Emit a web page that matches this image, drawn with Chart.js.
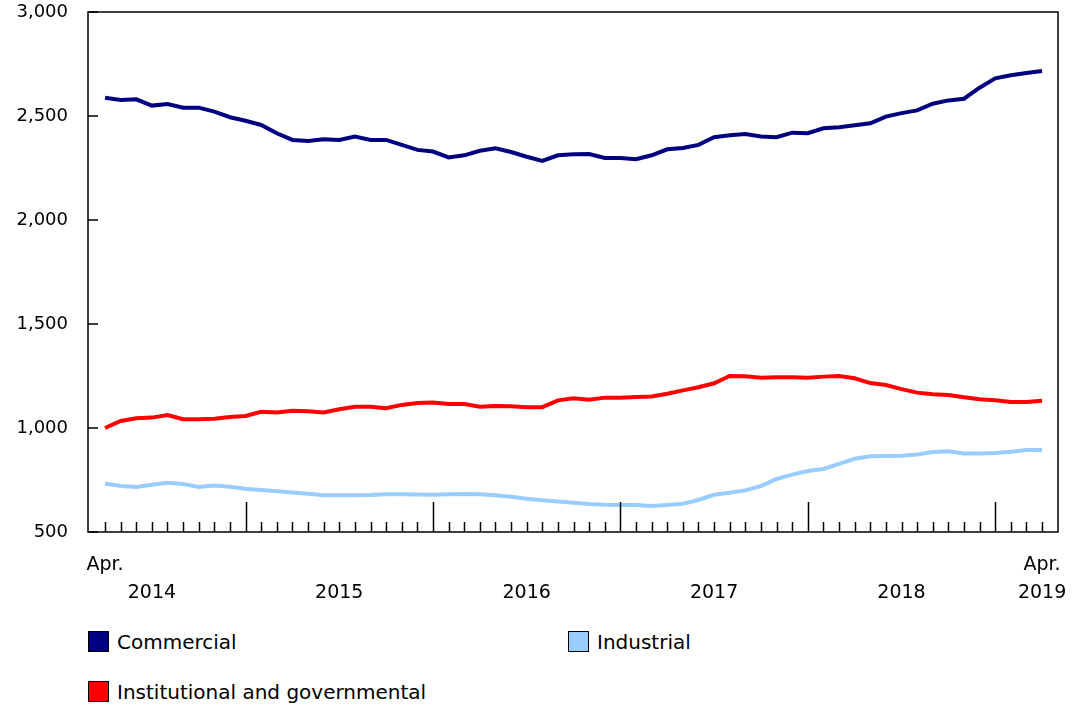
<!DOCTYPE html>
<html>
<head>
<meta charset="utf-8">
<script src="https://cdn.jsdelivr.net/npm/chart.js@4.4.1/dist/chart.umd.min.js"></script>
<style>
  body { margin: 0; background: #fff; font-family: 'DejaVu Sans', Verdana, sans-serif; }
  #wrap { position: relative; width: 1072px; height: 707px; overflow: hidden; }
  #chart { position: absolute; left: 0; top: 0; }
  .legend-item { position: absolute; display: flex; align-items: center; font-size: 20px; color: #000; white-space: nowrap; }
  .swatch { width: 19px; height: 19px; border: 1px solid #000; margin-right: 8px; }
</style>
</head>
<body>
<div id="wrap">
  <canvas id="chart" width="1072" height="620"></canvas>
  <div id="legend"></div>
</div>
<script>
// Months from April 2014 to April 2019
const months = [];
for (let y = 2014, m = 4; y < 2019 || (y === 2019 && m <= 4); m++) {
    if (m > 12) { m = 1; y++; }
    months.push({ year: y, month: m });
}

const commercial = [2588, 2577, 2580, 2550, 2558, 2540, 2540, 2521, 2494, 2477, 2457, 2417, 2385, 2380, 2388, 2385, 2401, 2385, 2385, 2361,
    2337, 2329, 2301, 2311, 2333, 2345, 2327, 2304, 2284, 2311, 2316, 2317, 2298, 2298, 2292, 2311, 2340, 2346, 2361, 2398,
    2407, 2413, 2401, 2398, 2420, 2417, 2441, 2446, 2455, 2465, 2497, 2514, 2527, 2559, 2575, 2583, 2636, 2681, 2696, 2707, 2716];
const industrial = [733, 721, 716, 727, 737, 731, 716, 723, 718, 708, 702, 696, 690, 684, 677, 677, 677, 678, 682, 682,
    680, 679, 682, 683, 681, 677, 669, 660, 653, 647, 641, 635, 631, 630, 630, 625, 630, 636, 654, 679,
    689, 700, 721, 755, 776, 793, 803, 828, 852, 864, 865, 867, 873, 885, 888, 878, 878, 880, 886, 894, 894];
const institutional = [1000, 1034, 1047, 1050, 1062, 1042, 1042, 1045, 1053, 1058, 1078, 1075, 1083, 1080, 1075, 1090, 1102, 1102, 1095, 1111,
    1120, 1122, 1115, 1115, 1102, 1106, 1104, 1100, 1100, 1133, 1143, 1136, 1146, 1146, 1149, 1152, 1165, 1181, 1196, 1215,
    1250, 1249, 1242, 1244, 1244, 1242, 1247, 1250, 1239, 1216, 1207, 1187, 1170, 1162, 1159, 1148, 1138, 1133, 1125, 1125, 1131];

const seriesNames = ['Commercial', 'Industrial', 'Institutional and governmental'];
const seriesColors = ['#000080', '#99ccff', '#ff0000'];
const yearLabels = ['2014', '2015', '2016', '2017', '2018', '2019'];
const yTicks = [500, 1000, 1500, 2000, 2500, 3000];

// x labels: "Apr." at first and last month, years centred on July (last one on April)
const xTickSpots = [];
xTickSpots.push({ index: 0, lines: ['Apr.', ''] });
yearLabels.forEach(function (yr) {
    let idx = months.findIndex(d => d.year === +yr && d.month === 7);
    if (idx < 0) {
        xTickSpots.push({ index: months.length - 1, lines: ['Apr.', yr] });
    } else {
        xTickSpots.push({ index: idx, lines: ['', yr] });
    }
});

const toPoints = arr => arr.map((v, i) => ({ x: i, y: v }));

const frameAndTicks = {
    id: 'frameAndTicks',
    afterDatasetsDraw(chart) {
        const ctx = chart.ctx;
        const a = chart.chartArea;
        const x = chart.scales.x;
        const y = chart.scales.y;
        ctx.save();
        ctx.strokeStyle = '#000';
        ctx.lineWidth = 1.5;
        ctx.beginPath();
        // y ticks, pointing inward
        yTicks.forEach(function (v) {
            const py = Math.round(y.getPixelForValue(v));
            ctx.moveTo(a.left, py);
            ctx.lineTo(a.left + 10, py);
        });
        // x ticks, longer at January
        months.forEach(function (d, i) {
            const px = Math.round(x.getPixelForValue(i)) + 0.5;
            const len = d.month === 1 ? 30 : 10;
            ctx.moveTo(px, a.bottom);
            ctx.lineTo(px, a.bottom - len);
        });
        ctx.stroke();
        ctx.strokeRect(a.left, a.top, a.right - a.left, a.bottom - a.top);
        ctx.restore();
    }
};

const ctx = document.getElementById('chart').getContext('2d');
const chart = new Chart(ctx, {
    type: 'line',
    data: {
        datasets: [
            { label: seriesNames[0], data: toPoints(commercial), borderColor: seriesColors[0], backgroundColor: seriesColors[0] },
            { label: seriesNames[1], data: toPoints(industrial), borderColor: seriesColors[1], backgroundColor: seriesColors[1] },
            { label: seriesNames[2], data: toPoints(institutional), borderColor: seriesColors[2], backgroundColor: seriesColors[2] }
        ]
    },
    options: {
        responsive: false,
        animation: false,
        layout: { padding: { top: 12, right: 14, left: 0, bottom: 0 } },
        elements: {
            line: { borderWidth: 4, tension: 0 },
            point: { radius: 0 }
        },
        plugins: {
            legend: { display: false },
            tooltip: { enabled: false }
        },
        scales: {
            x: {
                type: 'linear',
                min: -1.09,
                max: 61.02,
                afterBuildTicks: function (s) {
                    s.ticks = xTickSpots.map(t => ({ value: t.index }));
                },
                ticks: {
                    autoSkip: false,
                    maxRotation: 0,
                    minRotation: 0,
                    padding: 19,
                    color: '#000',
                    font: { family: 'DejaVu Sans', size: 19, lineHeight: 1.47 },
                    callback: function (value, index) {
                        return xTickSpots[index] ? xTickSpots[index].lines : '';
                    }
                },
                grid: { display: false, drawTicks: false },
                border: { display: false },
                afterFit: function (s) {
                    s.height = 88;
                    s.paddingLeft = 0;
                    s.paddingRight = 0;
                }
            },
            y: {
                min: 500,
                max: 3000,
                afterBuildTicks: function (s) {
                    s.ticks = yTicks.map(v => ({ value: v }));
                },
                ticks: {
                    padding: 20,
                    color: '#000',
                    font: { family: 'DejaVu Sans', size: 18 },
                    callback: v => v.toLocaleString('en-US')
                },
                grid: { display: false, drawTicks: false },
                border: { display: false },
                afterFit: function (s) {
                    s.width = 88;
                    s.paddingTop = 0;
                    s.paddingBottom = 0;
                }
            }
        }
    },
    plugins: [frameAndTicks]
});

// HTML legend in two columns
const legendSpots = [{ left: 88, top: 631 }, { left: 568, top: 631 }, { left: 88, top: 681 }];
const legendEl = document.getElementById('legend');
chart.data.datasets.forEach(function (ds, i) {
    const item = document.createElement('div');
    item.className = 'legend-item';
    item.style.left = legendSpots[i].left + 'px';
    item.style.top = legendSpots[i].top + 'px';
    item.style.height = '21px';
    const sw = document.createElement('span');
    sw.className = 'swatch';
    sw.style.background = ds.borderColor;
    const tx = document.createElement('span');
    tx.textContent = ds.label;
    item.appendChild(sw);
    item.appendChild(tx);
    legendEl.appendChild(item);
});
</script>
</body>
</html>
